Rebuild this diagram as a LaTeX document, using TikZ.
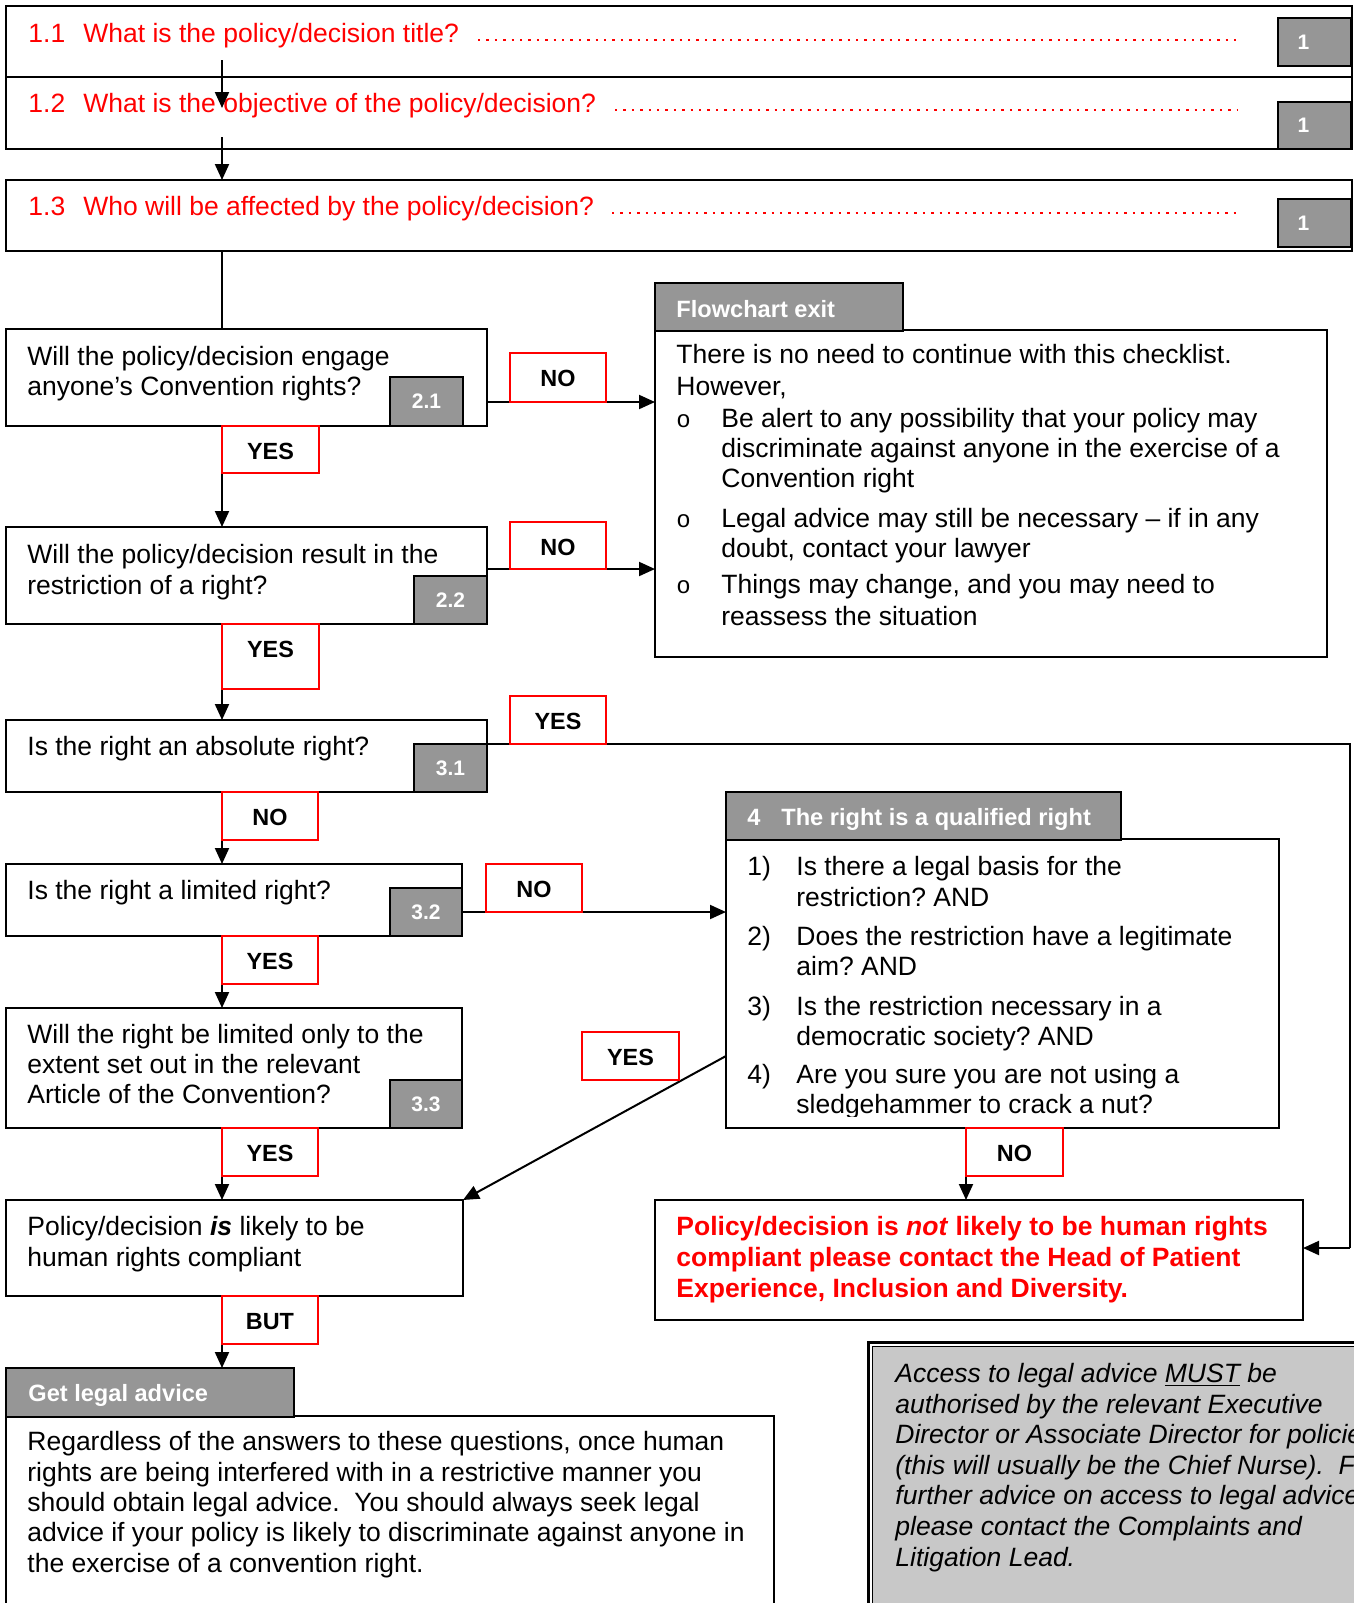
\documentclass[tikz,border=0pt]{standalone}
\usepackage{fontspec}
\setmainfont{Liberation Sans}
\newfontfamily\monof{Liberation Mono}
\usetikzlibrary{arrows.meta}
\definecolor{greyfill}{HTML}{969696}
\definecolor{accfill}{HTML}{C8C8C8}
\newcommand\mkbox[6]{\node[#2, anchor=north west, minimum width={(#5-#3)*0.5pt}, minimum height={(#6-#4)*0.5pt}] (#1) at (#3,#4) {};}
\newcommand\mknum[6]{\node[numbox, anchor=north west, minimum width={(#4-#2)*0.5pt}, minimum height={(#5-#3)*0.5pt}] (#1) at (#2,#3) {#6};}
\newcommand\mknumb[6]{\node[numbox, anchor=north west, minimum width={(#4-#2)*0.5pt}, minimum height={(#5-#3)*0.5pt}] (#1) at (#2,#3) {};
  \node[text=white, inner sep=0pt, font=\fontsize{10.5}{12}\selectfont\bfseries] (#1t) at ([xshift=-5.5pt]#1.center) {#6};}
\newcommand\mklab[6]{\node[labbox, anchor=north west, minimum width={(#4-#2)*0.5pt}, minimum height={(#5-#3)*0.5pt}] (#1) at (#2,#3) {};
  \node[labtxt, anchor=base] (#1t) at ([yshift=-16.5pt]#1.north) {#6};}
\newcommand\mytx[4][]{\node[txt,#1] (#2) at (#3) {#4};}
\newcommand\mybul[2]{\node[anchor=base west, inner sep=0pt, font=\fontsize{12}{14}\monof] (#1) at (#2) {o};}
\frenchspacing
\begin{document}
\begin{tikzpicture}[x=0.5pt,y=-0.5pt,
 box/.style={draw=black, line width=1pt, fill=white, rectangle, inner sep=0pt, outer sep=0pt},
 numbox/.style={draw=black, line width=0.8pt, fill=greyfill, rectangle, inner sep=0pt, outer sep=0pt, text=white, font=\fontsize{10.5}{12}\selectfont\bfseries},
 headbox/.style={draw=black, line width=1pt, fill=greyfill, rectangle, inner sep=0pt, outer sep=0pt},
 labbox/.style={draw=red, line width=0.7pt, fill=white, rectangle, inner sep=0pt, outer sep=0pt},
 labtxt/.style={inner sep=0pt, font=\fontsize{11.7}{14}\selectfont\bfseries},
 txt/.style={anchor=base west, inner sep=0pt, font=\fontsize{13.25}{15}\selectfont},
 redtxt/.style={text=red},
 boldred/.style={text=red, font=\fontsize{13.25}{15}\selectfont\bfseries},
 ittxt/.style={font=\fontsize{13.25}{15}\selectfont\itshape},
 headtxt/.style={anchor=base west, inner sep=0pt, text=white, font=\fontsize{11.8}{14}\selectfont\bfseries},
 arr/.style={line width=1pt, -{Triangle[length=8pt,width=7pt]}},
 conn/.style={line width=1pt},
 dotline/.style={draw=red, line width=1.2pt, dash pattern=on 1.2pt off 3pt},
]
\useasboundingbox (0,0) rectangle (1354,1603);
\clip (0,0) rectangle (1354,1603);
\fill[white] (0,0) rectangle (1354,1603);

% ---- top boxes
\mkbox{b11}{box}{6}{6}{1352}{77}
\mkbox{b12}{box}{6}{77}{1352}{149}
\mkbox{b13}{box}{6}{180}{1352}{251}
\mknumb{n11}{1278}{18}{1351}{66}{1}
\mknumb{n12}{1278}{102}{1351}{149}{1}
\mknumb{n13}{1278}{199}{1351}{247}{1}
\mytx[redtxt]{t1a}{28,42}{1.1}
\mytx[redtxt]{t1b}{83,42}{What is the policy/decision title?}
\mytx[redtxt]{t2a}{28,112}{1.2}
\mytx[redtxt]{t2b}{83,112}{What is the objective of the policy/decision?}
\mytx[redtxt]{t3a}{28,215}{1.3}
\mytx[redtxt]{t3b}{83,215}{Who will be affected by the policy/decision?}
\coordinate (d1s) at (478,40); \coordinate (d1e) at (1237,40);
\coordinate (d2s) at (615,110); \coordinate (d2e) at (1237,110);
\coordinate (d3s) at (612,213); \coordinate (d3e) at (1237,213);
\draw[dotline] (d1s) -- (d1e);
\draw[dotline] (d2s) -- (d2e);
\draw[dotline] (d3s) -- (d3e);

% ---- question boxes
\mkbox{q21}{box}{6}{329}{487}{426}
\mkbox{q22}{box}{6}{527}{487}{624}
\mkbox{q31}{box}{6}{720}{487}{792}
\mkbox{q32}{box}{6}{864}{462}{936}
\mkbox{q33}{box}{6}{1008}{462}{1128}
\mkbox{comp}{box}{6}{1200}{463}{1296}
\mknum{n21}{390}{377}{463}{426}{2.1}
\mknum{n22}{414}{576}{487}{624}{2.2}
\mknum{n31}{414}{744}{487}{792}{3.1}
\mknum{n32}{390}{888}{462}{936}{3.2}
\mknum{n33}{390}{1080}{462}{1128}{3.3}
\mytx{tq21a}{27,365}{Will the policy/decision engage}
\mytx{tq21b}{27,395}{anyone’s Convention rights?}
\mytx{tq22a}{27,563}{Will the policy/decision result in the}
\mytx{tq22b}{27,594}{restriction of a right?}
\mytx{tq31}{27,755}{Is the right an absolute right?}
\mytx{tq32}{27,899}{Is the right a limited right?}
\mytx{tq33a}{27,1043}{Will the right be limited only to the}
\mytx{tq33b}{27,1073}{extent set out in the relevant}
\mytx{tq33c}{27,1103}{Article of the Convention?}
\mytx{tca}{27,1235}{Policy/decision \textbf{\textit{is}} likely to be}
\mytx{tcb}{27,1266}{human rights compliant}

% ---- flowchart exit
\mkbox{exb}{box}{655}{330}{1327}{657}
\mkbox{exh}{headbox}{655}{283}{903}{331}
\node[headtxt] (exht) at (676,317) {Flowchart exit};
\mytx{ex1}{676,363}{There is no need to continue with this checklist.}
\mytx{ex2}{676,395}{However,}
\mybul{eb1}{676,427}
\mytx{ex3}{721,427}{Be alert to any possibility that your policy may}
\mytx{ex4}{721,457}{discriminate against anyone in the exercise of a}
\mytx{ex5}{721,487}{Convention right}
\mybul{eb2}{676,527}
\mytx{ex6}{721,527}{Legal advice may still be necessary – if in any}
\mytx{ex7}{721,557}{doubt, contact your lawyer}
\mybul{eb3}{676,593}
\mytx{ex8}{721,593}{Things may change, and you may need to}
\mytx{ex9}{721,625}{reassess the situation}

% ---- qualified right
\mkbox{qb}{box}{726}{839}{1279}{1128}
\mkbox{qh}{headbox}{726}{792}{1121}{840}
\node[headtxt] (qht1) at (747,825) {4};
\node[headtxt] (qht2) at (781,825) {The right is a qualified right};
\mytx{qn1}{747,875}{1)}
\mytx{qa1}{796,875}{Is there a legal basis for the}
\mytx{qa2}{796,906}{restriction? AND}
\mytx{qn2}{747,945}{2)}
\mytx{qb1}{796,945}{Does the restriction have a legitimate}
\mytx{qb2}{796,975}{aim? AND}
\mytx{qn3}{747,1015}{3)}
\mytx{qc1}{796,1015}{Is the restriction necessary in a}
\mytx{qc2}{796,1045}{democratic society? AND}
\mytx{qn4}{747,1083}{4)}
\mytx{qd1}{796,1083}{Are you sure you are not using a}
\begin{scope}
\clip (780,1088) rectangle (1270,1116);
\mytx{qd2}{796,1113}{sledgehammer to crack a nut?}
\end{scope}

% ---- not compliant
\mkbox{notc}{box}{655}{1200}{1303}{1320}
\mytx[boldred]{nc1}{676,1235}{Policy/decision is \textit{not} likely to be human rights}
\mytx[boldred]{nc2}{676,1266}{compliant please contact the Head of Patient}
\mytx[boldred]{nc3}{676,1297}{Experience, Inclusion and Diversity.}

% ---- legal advice
\mkbox{lb}{box}{6}{1416}{774}{1640}
\mkbox{lh}{headbox}{6}{1368}{294}{1417}
\node[headtxt] (lht) at (28,1401) {Get legal advice};
\mytx{lg1}{27,1450}{Regardless of the answers to these questions, once human}
\mytx{lg2}{27,1481}{rights are being interfered with in a restrictive manner you}
\mytx{lg3}{27,1511}{should obtain legal advice.\ \ You should always seek legal}
\mytx{lg4}{27,1541}{advice if your policy is likely to discriminate against anyone in}
\mytx{lg5}{27,1572}{the exercise of a convention right.}

% ---- access box (cut off by the page edge, as in the reference)
\node[draw=black, line width=1.6pt, fill=white, anchor=north west, inner sep=0pt, minimum width=260pt, minimum height=160pt] (accout) at (867,1341) {};
\node[draw=black, line width=0.6pt, fill=accfill, anchor=north west, inner sep=0pt, minimum width=260pt, minimum height=160pt] (acc) at (872,1346) {};
\mytx[ittxt]{ac1}{895,1382}{Access to legal advice \underline{MUST} be}
\mytx[ittxt]{ac2}{895,1413}{authorised by the relevant Executive}
\mytx[ittxt]{ac3}{895,1443}{Director or Associate Director for policies}
\mytx[ittxt]{ac4}{895,1474}{(this will usually be the Chief Nurse).\ \ For}
\mytx[ittxt]{ac5}{895,1504}{further advice on access to legal advice}
\mytx[ittxt]{ac6}{895,1535}{please contact the Complaints and}
\mytx[ittxt]{ac7}{895,1566}{Litigation Lead.}

% ---- connectors
\coordinate (cx) at (222,0);
\coordinate (a1s) at (222,60);
\coordinate (a1e) at (222,108);
\coordinate (a2s) at (222,137);
\coordinate (cR) at (1350,1248);
\coordinate (cq) at (966,0);
\coordinate (dgs) at (726,1056);
\draw[arr] (a1s) -- (a1e);
\draw[arr] (a2s) -- (b13.north -| cx);
\draw[conn] (b13.south -| cx) -- (q21.north -| cx);
\draw[arr] (q21.south -| cx) -- (q22.north -| cx);
\draw[arr] (q22.south -| cx) -- (q31.north -| cx);
\draw[arr] (q31.south -| cx) -- (q32.north -| cx);
\draw[arr] (q32.south -| cx) -- (q33.north -| cx);
\draw[arr] (q33.south -| cx) -- (comp.north -| cx);
\draw[arr] (comp.south -| cx) -- (lh.north -| cx);
\draw[arr] (q21.east |- 0,402) -- (exb.west |- 0,402);
\draw[arr] (q22.east |- 0,569) -- (exb.west |- 0,569);
\draw[conn] (q31.east |- 0,744) -- (cR |- 0,744) -- (cR);
\draw[arr] (cR) -- (cR -| notc.east);
\draw[arr] (q32.east |- 0,912) -- (qb.west |- 0,912);
\draw[arr] (dgs) -- (comp.north east);
\draw[arr] (qb.south -| cq) -- (notc.north -| cq);

% ---- labels
\mklab{no21}{510}{353}{606}{402}{NO}
\mklab{yes21}{222}{426}{319}{473}{YES}
\mklab{no22}{510}{522}{606}{569}{NO}
\mklab{yes22}{222}{624}{319}{689}{YES}
\mklab{yes31}{510}{696}{606}{744}{YES}
\mklab{no31}{222}{792}{318}{840}{NO}
\mklab{no32}{486}{864}{582}{912}{NO}
\mklab{yes32}{222}{936}{318}{984}{YES}
\mklab{yesq}{582}{1032}{679}{1080}{YES}
\mklab{yes33}{222}{1128}{318}{1176}{YES}
\mklab{but}{222}{1296}{318}{1344}{BUT}
\mklab{noq}{966}{1128}{1063}{1176}{NO}
\end{tikzpicture}
\end{document}
